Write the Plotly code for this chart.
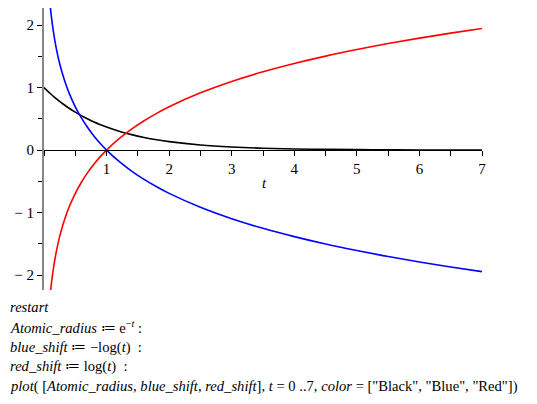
import plotly.graph_objects as go

# Data
t_black = [0, 0.1, 0.15, 0.2, 0.25, 0.3, 0.4, 0.5, 0.6, 0.7, 0.8, 0.9, 1.0, 1.2, 1.4, 1.6, 1.8, 2.0,
           2.5, 3.0, 3.5, 4.0, 4.5, 5.0, 5.5, 6.0, 6.5, 7.0]
atomic_radius = [1.00, 0.905, 0.861, 0.819, 0.779, 0.741, 0.670, 0.607, 0.549, 0.497, 0.449, 0.407, 0.368,
                 0.301, 0.247, 0.202, 0.165, 0.135, 0.082, 0.050, 0.030, 0.018, 0.011, 0.007, 0.004,
                 0.002, 0.002, 0.001]

t_log = [0.1, 0.12, 0.15, 0.2, 0.25, 0.3, 0.35, 0.4, 0.5, 0.6, 0.7, 0.8, 0.9, 1.0, 1.2, 1.4, 1.6, 1.8,
         2.0, 2.5, 3.0, 3.5, 4.0, 4.5, 5.0, 5.5, 6.0, 6.5, 7.0]
blue_shift = [2.303, 2.120, 1.897, 1.609, 1.386, 1.204, 1.050, 0.916, 0.693, 0.511, 0.357, 0.223, 0.105,
              0.0, -0.182, -0.336, -0.470, -0.588, -0.693, -0.916, -1.099, -1.253, -1.386, -1.504,
              -1.609, -1.705, -1.792, -1.872, -1.946]
red_shift = [-2.303, -2.120, -1.897, -1.609, -1.386, -1.204, -1.050, -0.916, -0.693, -0.511, -0.357,
             -0.223, -0.105, 0.0, 0.182, 0.336, 0.470, 0.588, 0.693, 0.916, 1.099, 1.253, 1.386, 1.504,
             1.609, 1.705, 1.792, 1.872, 1.946]

x_ticks = [1, 2, 3, 4, 5, 6, 7]
y_ticks = [-2, -1, 0, 1, 2]
y_tick_text = ["\u2212 2", "\u2212 1", "0", "1", "2"]

code_lines = [
    "<i>restart</i>",
    "<i>Atomic_radius</i> \u2254 e<sup>\u2212<i>t</i></sup> :",
    "<i>blue_shift</i> \u2254 \u2212log(<i>t</i>)  :",
    "<i>red_shift</i> \u2254 log(<i>t</i>)  :",
    "<i>plot</i>( [<i>Atomic_radius</i>, <i>blue_shift</i>, <i>red_shift</i>], <i>t</i> = 0 ..7, "
    "<i>color</i> = [\"Black\", \"Blue\", \"Red\"])",
]
# page body has an 8px margin; work in figure pixel coordinates
OFF = 8
code_y_px = [307 - OFF, 327 - OFF, 347 - OFF, 366 - OFF, 386 - OFF]

W, H = 537 - OFF, 404 - OFF
ML, MR, MT, MB = 44 - OFF, 55, 0, 114
ymin, ymax = -2.24, 2.274

fig = go.Figure()
fig.add_trace(go.Scatter(x=t_black, y=atomic_radius, mode="lines", line=dict(color="black", width=1.6, shape="spline")))
fig.add_trace(go.Scatter(x=t_log, y=blue_shift, mode="lines", line=dict(color="#0000ff", width=1.6, shape="spline")))
fig.add_trace(go.Scatter(x=t_log, y=red_shift, mode="lines", line=dict(color="#ff0000", width=1.6, shape="spline")))

FAM = "Liberation Serif, Times New Roman, serif"
font = dict(family=FAM, size=15, color="black")
code_font = dict(family=FAM, size=14.6, color="black")
plot_h = H - MT - MB
plot_w = W - ML - MR

fig.update_layout(
    width=W, height=H,
    margin=dict(l=ML, r=MR, t=MT, b=MB, pad=0),
    paper_bgcolor="white", plot_bgcolor="white",
    showlegend=False,
    font=font,
    xaxis=dict(
        range=[0, 7], anchor="free", position=(0 - ymin) / (ymax - ymin),
        showgrid=False, zeroline=False, showline=True, linecolor="black", linewidth=1,
        tickvals=x_ticks, ticks="outside", ticklen=5, tickcolor="black", tickwidth=1,
        minor=dict(dtick=0.5, tick0=0, ticks="outside", ticklen=5, tickcolor="black"),
        tickfont=font,
    ),
    yaxis=dict(
        range=[ymin, ymax],
        showgrid=False, zeroline=False, showline=True, linecolor="#888888", linewidth=2,
        tickvals=y_ticks, ticktext=y_tick_text, ticks="outside", ticklen=5, tickcolor="black",
        minor=dict(dtick=0.5, tick0=0, ticks="outside", ticklen=4, tickcolor="black"),
        tickfont=font,
    ),
)

fig.add_annotation(x=3.53, y=-0.53, xref="x", yref="y", text="<i>t</i>", showarrow=False, font=font)

for txt, ypx in zip(code_lines, code_y_px):
    fig.add_annotation(
        x=(8 - OFF - ML) / plot_w, y=-(ypx - (H - MB)) / plot_h, xref="paper", yref="paper",
        xanchor="left", yanchor="middle", text=txt, showarrow=False, align="left", font=code_font,
    )

fig.write_html("out.html")
